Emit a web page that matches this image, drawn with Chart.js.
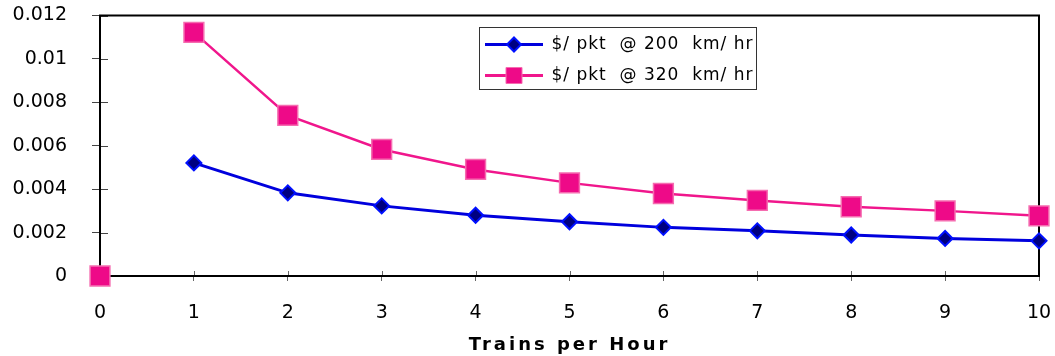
<!DOCTYPE html>
<html>
<head>
<meta charset="utf-8">
<script src="https://cdn.jsdelivr.net/npm/chart.js@4.4.1/dist/chart.umd.min.js"></script>
<style>
  html, body { margin: 0; padding: 0; background: #fff; }
  canvas { display: block; }
</style>
</head>
<body>
<canvas id="c" width="1055" height="356"></canvas>
<script>
// Cost per passenger-km against service frequency
const hours = [0, 1, 2, 3, 4, 5, 6, 7, 8, 9, 10];
const costAt200 = [0, 0.00521, 0.00383, 0.00323, 0.0028, 0.0025, 0.00224, 0.00208, 0.00189, 0.00173, 0.00162];
const costAt320 = [0, 0.01122, 0.0074, 0.00583, 0.00491, 0.00429, 0.0038, 0.00348, 0.00319, 0.003, 0.00277];
const seriesLabels = ['$/ pkt  @ 200  km/ hr', '$/ pkt  @ 320  km/ hr'];
const xAxisTitle = 'Trains per Hour';

const FONT = "'DejaVu Sans', 'Liberation Sans', Arial, sans-serif";
const BLUE_LINE = '#0000dd';
const PINK_LINE = '#f0168c';

const canvas = document.getElementById('c');
const context = canvas.getContext('2d');

// letter spacing follows the font in use: wide for the bold axis title,
// slight for the legend, none for the tick labels
const fontProp = Object.getOwnPropertyDescriptor(CanvasRenderingContext2D.prototype, 'font');
Object.defineProperty(context, 'font', {
  configurable: true,
  get() { return fontProp.get.call(this); },
  set(v) {
    fontProp.set.call(this, v);
    this.letterSpacing = /bold/.test(v) ? '3px' : (/\b17px/.test(v) ? '1px' : '0px');
  }
});

// the first point (0 trains) stands alone, with no line to the next one
const skipFirstSegment = {
  borderColor: c => (c.p0DataIndex === 0 ? 'rgba(0,0,0,0)' : undefined)
};

// ticks that cross the axes, plus the frame around the plot
const axisFrame = {
  id: 'axisFrame',
  beforeDatasetsDraw(chart) {
    const { ctx, chartArea: a, scales: { x, y } } = chart;
    ctx.save();
    ctx.lineWidth = 1;
    ctx.strokeStyle = '#444';
    y.ticks.forEach(t => {
      const py = Math.round(y.getPixelForValue(t.value)) + 0.5;
      ctx.beginPath(); ctx.moveTo(a.left, py); ctx.lineTo(a.left + 8, py); ctx.stroke();
    });
    ctx.strokeStyle = '#666';
    x.ticks.forEach(t => {
      const px = Math.round(x.getPixelForValue(t.value)) + 0.5;
      ctx.beginPath(); ctx.moveTo(px, a.bottom); ctx.lineTo(px, a.bottom - 5); ctx.stroke();
    });
    ctx.lineWidth = 2;
    ctx.strokeStyle = '#000';
    ctx.strokeRect(a.left, a.top, a.right - a.left, a.bottom - a.top);
    ctx.restore();
  }
};

// legend floated inside the plot, with a frame and a marker on each line sample
const legendBox = {
  id: 'legendBox',
  afterLayout(chart) {
    const lg = chart.legend;
    const w = lg.width, h = lg.height;
    lg.left = 471; lg.top = 22;
    lg.right = lg.left + w; lg.bottom = lg.top + h;
  },
  afterDraw(chart) {
    const lg = chart.legend;
    const ctx = chart.ctx;
    ctx.save();
    ctx.lineWidth = 1;
    ctx.strokeStyle = '#333';
    ctx.strokeRect(479.5, 27.5, 277, 62);
    const boxW = lg.options.labels.boxWidth;
    const fs = lg.options.labels.font.size;
    lg.legendHitBoxes.forEach((hb, i) => {
      const cx = hb.left + boxW / 2;
      const cy = hb.top + fs / 2;
      ctx.beginPath();
      if (i === 0) {
        const r = 7;
        ctx.moveTo(cx, cy - r); ctx.lineTo(cx + r, cy); ctx.lineTo(cx, cy + r); ctx.lineTo(cx - r, cy); ctx.closePath();
        ctx.fillStyle = '#000080'; ctx.fill();
        ctx.lineWidth = 2; ctx.strokeStyle = '#0010ff'; ctx.stroke();
      } else {
        const s = 8;
        ctx.rect(cx - s, cy - s, 2 * s, 2 * s);
        ctx.fillStyle = '#ee0a88'; ctx.fill();
        ctx.lineWidth = 1; ctx.strokeStyle = '#f56cb0'; ctx.stroke();
      }
    });
    ctx.restore();
  }
};

new Chart(canvas, {
  type: 'line',
  data: {
    datasets: [
      {
        label: seriesLabels[0],
        data: hours.map((h, i) => ({ x: h, y: costAt200[i] })),
        borderColor: BLUE_LINE,
        backgroundColor: BLUE_LINE,
        borderWidth: 3,
        pointStyle: 'rectRot',
        pointRadius: 7.5,
        pointBackgroundColor: '#000080',
        pointBorderColor: '#0010ff',
        pointBorderWidth: 2,
        segment: skipFirstSegment,
        clip: false,
        order: 1
      },
      {
        label: seriesLabels[1],
        data: hours.map((h, i) => ({ x: h, y: costAt320[i] })),
        borderColor: PINK_LINE,
        backgroundColor: PINK_LINE,
        borderWidth: 2.5,
        pointStyle: 'rect',
        pointRadius: 14,
        pointBackgroundColor: '#ee0a88',
        pointBorderColor: '#f56cb0',
        pointBorderWidth: 1.5,
        segment: skipFirstSegment,
        clip: false,
        order: 0
      }
    ]
  },
  options: {
    responsive: false,
    animation: false,
    devicePixelRatio: 1,
    events: [],
    layout: { padding: { left: 0, top: 15, right: 16, bottom: 0 } },
    scales: {
      x: {
        type: 'linear',
        min: 0,
        max: 10,
        ticks: { stepSize: 1, padding: 21, color: '#000', font: { family: FONT, size: 19 } },
        grid: { drawOnChartArea: false, drawTicks: true, tickLength: 5, color: '#666', lineWidth: 1 },
        border: { color: '#000', width: 2 },
        title: {
          display: true,
          text: xAxisTitle,
          color: '#000',
          font: { family: FONT, size: 18, weight: 'bold' },
          padding: { top: 0, bottom: 0 }
        },
        afterFit(s) { s.height = 80; s.paddingLeft = 0; s.paddingRight = 0; }
      },
      y: {
        type: 'linear',
        min: 0,
        max: 0.012,
        ticks: {
          stepSize: 0.002,
          padding: 25,
          color: '#000',
          font: { family: FONT, size: 19 },
          callback: v => String(+Number(v).toFixed(3))
        },
        grid: { drawOnChartArea: false, drawTicks: true, tickLength: 8, color: '#444', lineWidth: 1 },
        border: { color: '#000', width: 2 },
        afterFit(s) { s.width = 100; s.paddingTop = 0; s.paddingBottom = 0; }
      }
    },
    plugins: {
      tooltip: { enabled: false },
      legend: {
        position: 'chartArea',
        align: 'start',
        labels: {
          font: { family: FONT, size: 17 },
          color: '#000',
          boxWidth: 58,
          boxHeight: 3,
          padding: 14,
          generateLabels(chart) {
            return chart.data.datasets.map((d, i) => ({
              text: d.label,
              fillStyle: d.borderColor,
              strokeStyle: d.borderColor,
              lineWidth: 0,
              hidden: false,
              datasetIndex: i,
              fontColor: '#000'
            }));
          }
        }
      }
    }
  },
  plugins: [axisFrame, legendBox]
});
</script>
</body>
</html>
